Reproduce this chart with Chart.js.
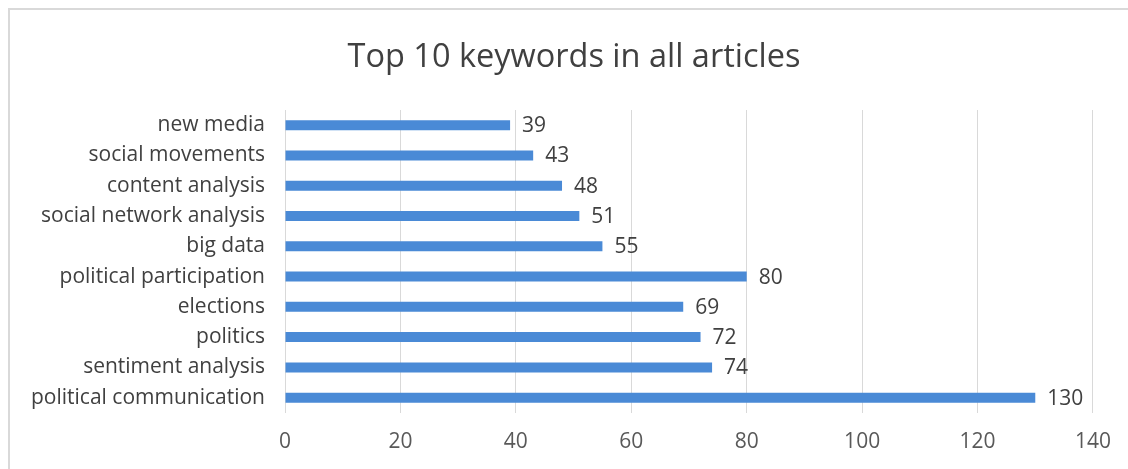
<!DOCTYPE html>
<html>
<head>
<meta charset="utf-8">
<script src="https://cdn.jsdelivr.net/npm/chart.js@4.4.1/dist/chart.umd.min.js"></script>
<style>
  html, body { margin: 0; padding: 0; background: #fff; overflow: hidden; }
  #frame {
    position: absolute; left: 8px; top: 8px; width: 1130px; height: 470px;
    border-left: 2px solid #d9d9d9; border-top: 2px solid #d9d9d9;
    box-sizing: border-box;
  }
  #wrap { position: absolute; left: 10px; top: 10px; width: 1118px; height: 468px; }
</style>
</head>
<body>
<div id="frame"></div>
<div id="wrap"><canvas id="grafico"></canvas></div>
<script>
const palavras = [
  "new media",
  "social movements",
  "content analysis",
  "social network analysis",
  "big data",
  "political participation",
  "elections",
  "politics",
  "sentiment analysis",
  "political communication",
];
const contagem = [39, 43, 48, 51, 55, 80, 69, 72, 74, 130];
const eixoMax = 140;
const eixoPasso = 20;
const titulo = "Top 10 keywords in all articles";

const fonte = "'Open Sans', Lato, sans-serif";

// título centrado na moldura toda, não só na área do gráfico
const tituloCentrado = {
  id: "tituloCentrado",
  afterDraw(chart) {
    const ctx = chart.ctx;
    ctx.save();
    ctx.font = "32.5px " + fonte;
    ctx.fillStyle = "#404040";
    ctx.textAlign = "center";
    ctx.textBaseline = "middle";
    ctx.fillText(titulo, 564, 48);
    ctx.restore();
  },
};

// escreve o valor ao lado de cada barra
const rotulosValor = {
  id: "rotulosValor",
  afterDatasetsDraw(chart) {
    const ctx = chart.ctx;
    const meta = chart.getDatasetMeta(0);
    ctx.save();
    ctx.font = "21px " + fonte;
    ctx.fillStyle = "#404040";
    ctx.textAlign = "left";
    ctx.textBaseline = "middle";
    meta.data.forEach((barra, i) => {
      ctx.fillText(String(contagem[i]), barra.x + 12, barra.y + 1);
    });
    ctx.restore();
  },
};

const graficoPalavras = new Chart(document.getElementById("grafico"), {
  type: "bar",
  data: {
    labels: palavras,
    datasets: [
      {
        label: "Keywords",
        data: contagem,
        backgroundColor: "#4a8ad6",
        borderWidth: 0,
        barPercentage: 0.66,
        categoryPercentage: 0.5,
      },
    ],
  },
  options: {
    indexAxis: "y",
    responsive: true,
    maintainAspectRatio: false,
    animation: false,
    layout: { padding: { left: 0, right: 22, top: 100, bottom: 6 } },
    plugins: {
      legend: { display: false },
      tooltip: { enabled: false },
      title: { display: false },
    },
    scales: {
      x: {
        min: 0,
        max: eixoMax,
        ticks: {
          stepSize: eixoPasso,
          color: "#595959",
          padding: 17,
          font: { family: fonte, size: 21 },
        },
        grid: { color: "#d9d9d9", lineWidth: 1, drawTicks: false },
        border: { display: false },
      },
      y: {
        ticks: {
          color: "#404040",
          padding: 20,
          font: { family: fonte, size: 21 },
        },
        grid: { display: false, drawTicks: false },
        border: { display: false },
        afterFit(escala) {
          escala.width = 275;
        },
      },
    },
  },
  plugins: [rotulosValor, tituloCentrado],
});
</script>
</body>
</html>
